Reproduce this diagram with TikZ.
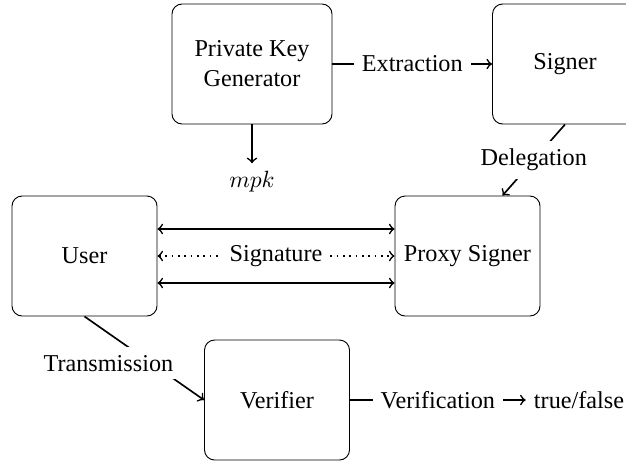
\documentclass[tikz,border=0pt]{standalone}
\usepackage{fontspec}
\setmainfont{Liberation Serif}
\usetikzlibrary{calc}
\begin{document}
\begin{tikzpicture}[x=0.4255pt,y=-0.4255pt,
  box/.style={draw, rounded corners=4.3pt, minimum height=51.06pt, minimum width=61.7pt,
    align=center, font=\fontsize{10.3}{12.8}\selectfont},
  conn/.style={line width=0.7pt},
  lbl/.style={fill=white, font=\fontsize{10.3}{12}\selectfont},
  txt/.style={font=\fontsize{10.3}{12}\selectfont}]
\useasboundingbox (0,0) rectangle (626,462);
\node[box, minimum width=68.1pt] (pkg) at (252,64) {Private Key\\Generator};
\node[box] (signer) at (565,64) {Signer};
\node[box] (user) at (84.5,256) {User};
\node[box] (proxy) at (467.5,256) {Proxy Signer};
\node[box] (verifier) at (277,400) {Verifier};
\node[txt] (mpk) at (252,182) {$mpk$};
\node[txt] (tf) at (579,400) {true/false};
\draw[conn,->] (pkg) -- node[lbl]{Extraction} (signer);
\draw[conn,->] (pkg) -- (mpk);
\draw[conn,->] (signer.south) -- node[lbl]{Delegation} ($(proxy.north)+(35,0)$);
\draw[conn,<->] ($(user.east)+(0,-27)$) -- ($(proxy.west)+(0,-27)$);
\draw[conn,<->,dotted] (user) -- node[lbl]{Signature} (proxy);
\draw[conn,<->] ($(user.east)+(0,27)$) -- ($(proxy.west)+(0,27)$);
\draw[conn,->] (user.south) -- node[lbl,pos=0.56,xshift=-18.3pt]{Transmission} (verifier.west);
\draw[conn,->] (verifier) -- node[lbl]{Verification} (tf);
\end{tikzpicture}
\end{document}
